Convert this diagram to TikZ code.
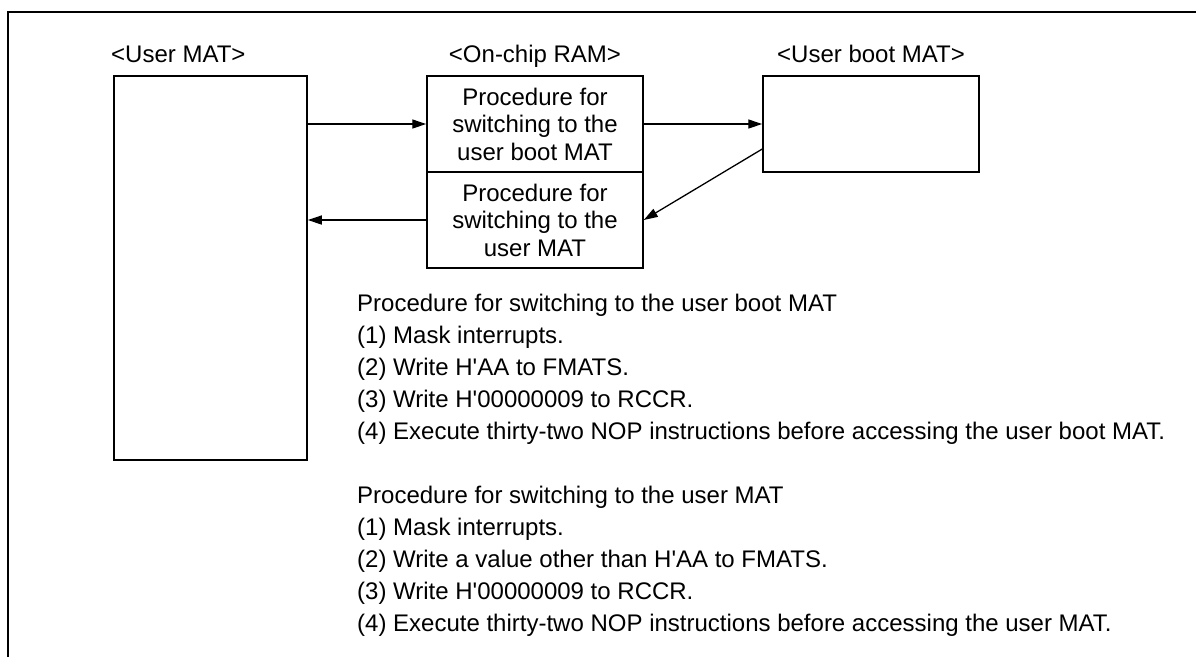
\documentclass[tikz,border=0pt]{standalone}
\usepackage{fontspec}
\newfontfamily\arial{Liberation Sans}
\usetikzlibrary{arrows.meta,calc}
\begin{document}
\begin{tikzpicture}[x=1pt,y=-1pt,
  frame/.style={line width=1.8pt},
  membox/.style={draw,line width=1.5pt,inner sep=0pt,minimum width=216pt,
    minimum height=96pt,align=center,font=\arial\fontsize{24}{27.5}\selectfont},
  memlabel/.style={anchor=base,inner sep=0pt,font=\arial\fontsize{24}{28}\selectfont},
  proc/.style={anchor=base west,inner sep=0pt,font=\arial\fontsize{24}{32}\selectfont},
  arr/.style={line width=1.3pt,-{Triangle[length=14pt,width=9pt]}}
]
\useasboundingbox (0,0) rectangle (1196,657);

% outer frame (open at right and bottom)
\draw[frame] (1196,12) -- (8,12) -- (8,657);

% memory areas
\node[membox,minimum width=193pt,minimum height=384pt] (usermat) at (210.5,268) {};
\node[membox] (ramup) at (535,124) {Procedure for\\switching to the\\user boot MAT};
\node[membox] (ramlo) at (535,220) {Procedure for\\switching to the\\user MAT};
\node[membox] (boot) at (871,124) {};

% area titles
\node[memlabel,anchor=base west] (lblu) at (111,62) {<User MAT>};
\node[memlabel] (lblr) at (535,62) {<On-chip RAM>};
\node[memlabel] (lblb) at (871,62) {<User boot MAT>};

% control flow
\draw[arr] (usermat.east |- ramup.west) -- (ramup.west);
\draw[arr] (ramup.east) -- (boot.west);
\coordinate (bootout) at ($(boot.west)+(0,25)$);
\draw[arr] (bootout) -- (ramlo.east);
\draw[arr] (ramlo.west) -- (ramlo.west -| usermat.east);

% switching procedures
\node[proc] (p0) at (357,311) {Procedure for switching to the user boot MAT};
\node[proc] (p1) at (357,343) {(1) Mask interrupts.};
\node[proc] (p2) at (357,375) {(2) Write H'AA to FMATS.};
\node[proc] (p3) at (357,407) {(3) Write H'00000009 to RCCR.};
\node[proc] (p4) at (357,439) {(4) Execute thirty-two NOP instructions before accessing the user boot MAT.};

\node[proc] (q0) at (357,503) {Procedure for switching to the user MAT};
\node[proc] (q1) at (357,535) {(1) Mask interrupts.};
\node[proc] (q2) at (357,567) {(2) Write a value other than H'AA to FMATS.};
\node[proc] (q3) at (357,599) {(3) Write H'00000009 to RCCR.};
\node[proc] (q4) at (357,631) {(4) Execute thirty-two NOP instructions before accessing the user MAT.};
\end{tikzpicture}
\end{document}
